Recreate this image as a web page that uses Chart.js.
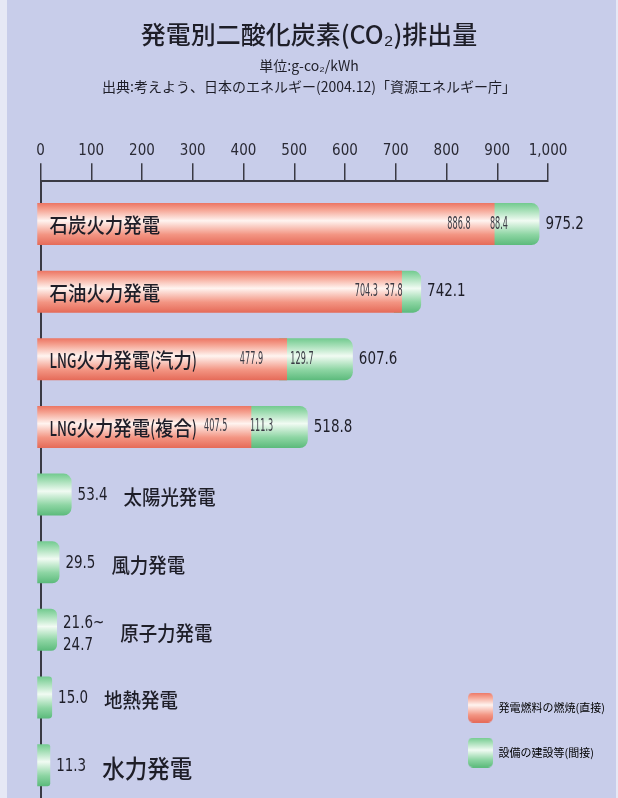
<!DOCTYPE html>
<html lang="ja">
<head>
<meta charset="UTF-8">
<title>発電別二酸化炭素(CO₂)排出量</title>
<style>
  html, body { margin: 0; padding: 0; background: #e6e8f5; overflow: hidden; }
  canvas { display: block; }
</style>
</head>
<body>
<canvas id="co2Chart" width="618" height="798"></canvas>
<script src="https://cdn.jsdelivr.net/npm/chart.js@4"></script>
<script>
// データ
const categories = ['石炭火力発電', '石油火力発電', 'LNG火力発電(汽力)', 'LNG火力発電(複合)',
                    '太陽光発電', '風力発電', '原子力発電', '地熱発電', '水力発電'];
const directValues = [886.8, 704.3, 477.9, 407.5, null, null, null, null, null];
const indirectValues = [88.4, 37.8, 129.7, 111.3, 53.4, 29.5, 24.7, 15.0, 11.3];
const totalLabels = ['975.2', '742.1', '607.6', '518.8', '53.4', '29.5', ['21.6~', '24.7'], '15.0', '11.3'];
const seriesNames = ['発電燃料の燃焼(直接)', '設備の建設等(間接)'];
const xTickValues = [0, 100, 200, 300, 400, 500, 600, 700, 800, 900, 1000];

const JP = "'Noto Sans CJK JP', sans-serif";
const NUM = "'DejaVu Sans Condensed', 'DejaVu Sans', sans-serif";
const BAR_H = 42;
const nameSizes = [20.5, 20.5, 20.5, 20.5, 20.5, 20.5, 20.5, 20.5, 25];

// 円柱っぽいグラデーション
function cylinder(c2d, top, h, kind) {
  const g = c2d.createLinearGradient(0, top, 0, top + h);
  if (kind === 'red') {
    g.addColorStop(0, '#ec7563');
    g.addColorStop(0.15, '#f5a190');
    g.addColorStop(0.42, '#fff4f0');
    g.addColorStop(0.75, '#f39583');
    g.addColorStop(1, '#e56a58');
  } else {
    g.addColorStop(0, '#72ca8f');
    g.addColorStop(0.15, '#9edcb1');
    g.addColorStop(0.42, '#f1fbf3');
    g.addColorStop(0.75, '#8dd5a3');
    g.addColorStop(1, '#5bba7b');
  }
  return g;
}

function barFill(kind) {
  return (c) => {
    const chart = c.chart;
    if (!chart.chartArea || c.dataIndex === undefined) return kind === 'red' ? '#f08a78' : '#8ad3a0';
    const yc = chart.scales.y.getPixelForValue(c.dataIndex);
    return cylinder(chart.ctx, yc - BAR_H / 2, BAR_H, kind);
  };
}

function swatch(kind) {
  const cv = document.createElement('canvas');
  cv.width = 25; cv.height = 30;
  const c2d = cv.getContext('2d');
  c2d.fillStyle = cylinder(c2d, 0, 30, kind);
  c2d.beginPath();
  c2d.roundRect(0, 0, 25, 30, 5);
  c2d.fill();
  return cv;
}
const swatches = [swatch('red'), swatch('green')];

// 横に詰めた文字
function narrowText(ctx, text, x, y, sx, align) {
  ctx.save();
  ctx.translate(x, y);
  ctx.scale(sx, 1);
  ctx.textAlign = align;
  ctx.fillText(text, 0, 0);
  ctx.restore();
  return ctx.measureText(text).width * sx;
}

// 名前: 英字と括弧はさらに細く
function drawName(ctx, text, x, y) {
  const runs = text.match(/[A-Za-z()]+|[^A-Za-z()]+/g);
  let cx = x;
  runs.forEach(run => {
    const sx = /[A-Za-z()]/.test(run) ? 0.66 : 0.9;
    cx += narrowText(ctx, run, cx, y, sx, 'left');
  });
  return cx - x;
}

const background = {
  id: 'background',
  beforeDraw(chart) {
    const { ctx, width, height } = chart;
    ctx.save();
    ctx.fillStyle = '#e6e8f5';
    ctx.fillRect(0, 0, width, height);
    ctx.fillStyle = '#c8cdea';
    ctx.fillRect(7, 0, width - 9, height);
    ctx.restore();
  }
};

// 凡例を右下へ
const legendSpot = {
  id: 'legendSpot',
  afterLayout(chart) {
    const lg = chart.legend;
    lg.left = 434; lg.top = 668;
    lg.width = 184; lg.height = 130;
    lg.right = lg.left + lg.width;
    lg.bottom = lg.top + lg.height;
  }
};

// 数値・名前のラベル
const barText = {
  id: 'barText',
  afterDatasetsDraw(chart) {
    const { ctx, chartArea } = chart;
    const redBars = chart.getDatasetMeta(0).data;
    const greenBars = chart.getDatasetMeta(1).data;
    ctx.save();
    ctx.textBaseline = 'middle';
    categories.forEach((name, i) => {
      const g = greenBars[i];
      const y = g.y;
      ctx.fillStyle = '#1e1e28';
      if (directValues[i] !== null) {
        const r = redBars[i];
        ctx.font = `500 ${nameSizes[i]}px ${JP}`;
        drawName(ctx, name, chartArea.left + 9, y + 1);
        ctx.fillStyle = '#3a3a44';
        ctx.font = `17px ${NUM}`;
        narrowText(ctx, directValues[i].toFixed(1), r.x - 20, y, 0.53, 'right');
        narrowText(ctx, indirectValues[i].toFixed(1), (r.x + g.x) / 2 - 14, y, 0.53, 'center');
        ctx.fillStyle = '#1e1e28';
        ctx.font = `18px ${NUM}`;
        narrowText(ctx, totalLabels[i], g.x + 10, y, 0.83, 'left');
      } else {
        ctx.font = `18px ${NUM}`;
        const lbl = totalLabels[i];
        let w;
        if (Array.isArray(lbl)) {
          const w0 = narrowText(ctx, lbl[0], g.x + 10, y - 7, 0.83, 'left');
          const w1 = narrowText(ctx, lbl[1], g.x + 10, y + 15, 0.83, 'left');
          w = Math.max(w0, w1);
        } else {
          w = narrowText(ctx, lbl, g.x + 10, y + 1, 0.83, 'left');
        }
        ctx.font = `500 ${nameSizes[i]}px ${JP}`;
        drawName(ctx, name, g.x + 10 + w + 16, y + 3);
      }
    });
    ctx.restore();
  }
};

new Chart(document.getElementById('co2Chart'), {
  type: 'bar',
  data: {
    datasets: [
      {
        label: seriesNames[0],
        data: categories.map((c, i) => ({ x: directValues[i], y: i })),
        backgroundColor: barFill('red'),
        grouped: false,
        clip: false,
        barThickness: BAR_H - 8,
        inflateAmount: 4
      },
      {
        label: seriesNames[1],
        data: categories.map((c, i) => ({ x: indirectValues[i], y: i })),
        backgroundColor: barFill('green'),
        grouped: false,
        clip: false,
        barThickness: BAR_H - 8,
        inflateAmount: 4,
        borderRadius: 8
      }
    ]
  },
  options: {
    indexAxis: 'y',
    responsive: false,
    animation: false,
    layout: { padding: 0 },
    scales: {
      x: {
        type: 'linear',
        position: 'top',
        min: 0,
        max: 1000,
        stacked: true,
        afterBuildTicks(s) { s.ticks = xTickValues.map(v => ({ value: v })); },
        ticks: {
          font: { family: NUM, size: 15 },
          color: '#2a2a35',
          padding: 3.4,
          maxRotation: 0,
          autoSkip: false,
          callback: v => v.toLocaleString('en-US')
        },
        grid: { drawOnChartArea: false, tickLength: 18, tickColor: '#3a3a44', lineWidth: 1.5 },
        border: { color: '#3a3a44', width: 2 }
      },
      y: {
        type: 'linear',
        min: -0.634,
        max: 8.486,
        reverse: true,
        offset: false,
        ticks: { display: false },
        grid: { display: false, drawTicks: false },
        border: { display: true, color: '#3a3a44', width: 2 },
        afterFit(s) { s.width = 40.5; }
      },
      yRight: {
        axis: 'y',
        type: 'linear',
        position: 'right',
        ticks: { display: false },
        grid: { display: false, drawTicks: false },
        border: { display: false },
        afterFit(s) { s.width = 70; }
      }
    },
    plugins: {
      title: {
        display: true,
        text: '発電別二酸化炭素(CO₂)排出量',
        font: { family: JP, size: 25, weight: '500' },
        color: '#1e1e28',
        padding: { top: 19, bottom: 0 }
      },
      subtitle: {
        display: true,
        text: ['単位:g-co₂/kWh', '出典:考えよう、日本のエネルギー(2004.12)「資源エネルギー庁」'],
        font: { family: JP, size: 14, lineHeight: 1.5 },
        color: '#1e1e28',
        padding: { top: 6.5, bottom: 40.9 }
      },
      legend: {
        position: 'chartArea',
        align: 'start',
        labels: {
          usePointStyle: true,
          pointStyleWidth: 25,
          padding: 34,
          color: '#2a2a35',
          font: { family: JP, size: 11 },
          generateLabels: () => seriesNames.map((t, i) => ({
            text: t,
            pointStyle: swatches[i],
            fillStyle: 'transparent',
            strokeStyle: 'transparent',
            lineWidth: 0,
            hidden: false,
            datasetIndex: i
          }))
        }
      },
      tooltip: { enabled: false }
    }
  },
  plugins: [background, legendSpot, barText]
});
</script>
</body>
</html>
